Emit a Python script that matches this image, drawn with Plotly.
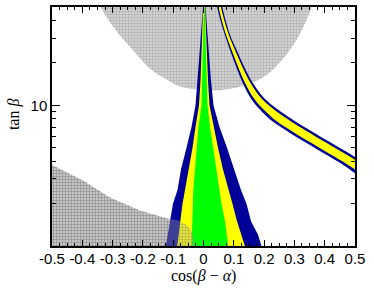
import math
import plotly.graph_objects as go

# ---------------- data ----------------
X_TICKS = [-0.5, -0.4, -0.3, -0.2, -0.1, 0.0, 0.1, 0.2, 0.3, 0.4, 0.5]
X_TICK_LABELS = ["-0.5", "-0.4", "-0.3", "-0.2", "-0.1", "0", "0.1", "0.2", "0.3", "0.4", "0.5"]
Y_TICKS = [10]
Y_TICK_LABELS = ["10"]
Y_MINOR = [2, 3, 4, 5, 6, 7, 8, 9, 20, 30, 40]

# upper excluded (grey) region boundary: cos(b-a), tan(b)
UPPER_X = [-0.36, -0.3416, -0.3086, -0.2657, -0.2195, -0.1766, -0.1205, -0.0776, -0.0215,
           0.0446, 0.0974, 0.1535, 0.2096, 0.2624, 0.3086, 0.3416, 0.3581, 0.37]
UPPER_T = [60, 50.6, 39.0, 29.6, 22.9, 18.2, 15.2, 13.6, 12.97,
           12.8, 13.2, 14.3, 16.5, 21.4, 29.6, 41.0, 50.6, 60]

# lower-left excluded (grey) region boundary
LOWER_X = [-0.52, -0.52, -0.398, -0.309, -0.210, -0.120, -0.0842, -0.0545, -0.038, -0.0314, -0.0314]
LOWER_T = [0.95, 3.95, 2.92, 2.21, 1.79, 1.57, 1.52, 1.41, 1.255, 1.10, 0.95]

# central allowed funnel (tan beta levels, left/right edges per confidence level)
FUNNEL_T = [0.97, 1.2, 1.5, 2, 2.5, 3.5, 5, 7, 10, 15, 20, 30, 40, 55]
BLUE_L = [-0.1254, -0.1188, -0.1106, -0.1007, -0.0858, -0.0743, -0.0561, -0.0396, -0.0264,
          -0.0198, -0.0155, -0.0099, -0.005, 0.0]
BLUE_R = [0.1931, 0.1799, 0.1568, 0.1419, 0.1238, 0.1007, 0.0776, 0.0528, 0.033,
          0.0248, 0.0198, 0.0149, 0.0099, 0.005]
YELLOW_L = [-0.0875, -0.0825, -0.0776, -0.0693, -0.0611, -0.0479, -0.0363, -0.0264, -0.0149,
            -0.0099, -0.0073, -0.004, -0.0017, -0.0005]
YELLOW_R = [0.1386, 0.1238, 0.1106, 0.0957, 0.0842, 0.0644, 0.0479, 0.033, 0.0198,
            0.0149, 0.0116, 0.0083, 0.0066, 0.0045]
GREEN_L = [-0.0396, -0.038, -0.037, -0.0353, -0.0337, -0.0281, -0.0231, -0.0165, -0.0066,
           -0.004, -0.0023, -0.0007, 0.0003, 0.0007]
GREEN_R = [0.0825, 0.0776, 0.071, 0.0594, 0.0512, 0.0413, 0.0314, 0.0215, 0.0132,
           0.0099, 0.0083, 0.0066, 0.005, 0.003]

# wrong-sign branch (curved band on the right)
BAND_T = [54.0, 40.3, 31.6, 24.0, 18.2, 14.76, 12.15, 10.33, 8.93, 7.78, 5.5, 3.8, 3.1]
BAND_BLUE_L = [0.0409, 0.0558, 0.0706, 0.0894, 0.1102, 0.1274, 0.1465, 0.1677, 0.1944, 0.2251,
               0.3333, 0.4591, 0.5254]
BAND_BLUE_R = [0.0581, 0.0729, 0.0878, 0.1119, 0.1373, 0.1597, 0.1868, 0.2185, 0.2578, 0.2997,
               0.4158, 0.5409, 0.6066]
BAND_YEL_L = [0.0454, 0.0603, 0.0747, 0.0950, 0.1165, 0.1347, 0.1554, 0.1785, 0.2076, 0.2393,
              0.3492, 0.4749, 0.5413]
BAND_YEL_R = [0.0536, 0.0684, 0.0837, 0.1063, 0.1310, 0.1525, 0.1779, 0.2076, 0.2446, 0.2855,
              0.4000, 0.5251, 0.5908]

BLUE = "#000099"
YELLOW = "#ffff00"
GREEN = "#00ff00"

# ---------------- figure ----------------
fig = go.Figure()


def region(xl, xr, t, color, shape="linear"):
    fig.add_trace(go.Scatter(
        x=list(xl) + list(xr)[::-1], y=list(t) + list(t)[::-1],
        mode="lines", fill="toself", fillcolor=color,
        line=dict(width=0, color=color, shape=shape), hoverinfo="skip", showlegend=False))


GREY_PATTERN = dict(shape="+", fgcolor="#7a7a7a", bgcolor="#d2d2d2", size=3, solidity=0.3)

# upper grey region
fig.add_trace(go.Scatter(
    x=UPPER_X, y=UPPER_T, mode="lines", fill="toself", fillcolor="#cccccc",
    fillpattern=GREY_PATTERN, line=dict(width=0, shape="spline"),
    hoverinfo="skip", showlegend=False))

# lower-left grey region (opaque base)
fig.add_trace(go.Scatter(
    x=LOWER_X, y=LOWER_T, mode="lines", fill="toself", fillcolor="#cccccc",
    fillpattern=GREY_PATTERN, line=dict(width=0),
    hoverinfo="skip", showlegend=False))

region(BLUE_L, BLUE_R, FUNNEL_T, BLUE)
region(YELLOW_L, YELLOW_R, FUNNEL_T, YELLOW)
region(GREEN_L, GREEN_R, FUNNEL_T, GREEN)
region(BAND_BLUE_L, BAND_BLUE_R, BAND_T, BLUE, "spline")
region(BAND_YEL_L, BAND_YEL_R, BAND_T, YELLOW, "spline")

# lower-left grey region hatching drawn over the funnel
fig.add_trace(go.Scatter(
    x=LOWER_X, y=LOWER_T, mode="lines", fill="toself",
    fillcolor="rgba(170,170,170,0.35)",
    fillpattern=dict(shape="+", fgcolor="rgba(80,80,80,0.8)", fillmode="overlay", size=3, solidity=0.3),
    line=dict(width=0), hoverinfo="skip", showlegend=False))

TICKFONT = dict(family="Liberation Sans, Arial, sans-serif", size=15, color="black")

fig.update_layout(
    width=374, height=288,
    margin=dict(l=52, r=19, t=5, b=42),
    paper_bgcolor="white", plot_bgcolor="white",
    xaxis=dict(
        range=[-0.5, 0.5], tickmode="array", tickvals=X_TICKS, ticktext=X_TICK_LABELS,
        ticks="inside", ticklen=6, tickwidth=1, tickcolor="black",
        showline=True, linewidth=1.5, linecolor="black", mirror="ticks",
        showgrid=False, zeroline=False, tickfont=TICKFONT, ticklabelstandoff=-2,
        minor=dict(tickmode="linear", tick0=-0.5, dtick=0.025, ticks="inside", ticklen=3,
                   tickcolor="black", showgrid=False),
    ),
    yaxis=dict(
        type="log", range=[0, math.log10(50)], tickmode="array", tickvals=Y_TICKS, ticktext=Y_TICK_LABELS,
        ticks="inside", ticklen=8, tickwidth=1, tickcolor="black",
        showline=True, linewidth=1.5, linecolor="black", mirror="ticks",
        showgrid=False, zeroline=False, tickfont=TICKFONT,
        minor=dict(tickmode="array", tickvals=Y_MINOR, ticks="inside", ticklen=4,
                   tickcolor="black", showgrid=False),
    ),
    annotations=[
        dict(text="cos(<i>β</i> − <i>α</i>)", xref="paper", yref="paper", x=0.5, y=0,
             yshift=-30, xanchor="center", yanchor="middle", showarrow=False,
             font=dict(family="Liberation Serif, Times New Roman, serif", size=16, color="black")),
        dict(text="tan <i>β</i>", xref="paper", yref="paper", x=0, y=0.552,
             xshift=-38, xanchor="center", yanchor="middle", showarrow=False, textangle=-90,
             font=dict(family="Liberation Serif, Times New Roman, serif", size=16, color="black")),
    ],
)

fig.write_html("out.html", config={"displayModeBar": False},
               post_script="document.body.style.margin='0';document.body.style.overflow='hidden';")
